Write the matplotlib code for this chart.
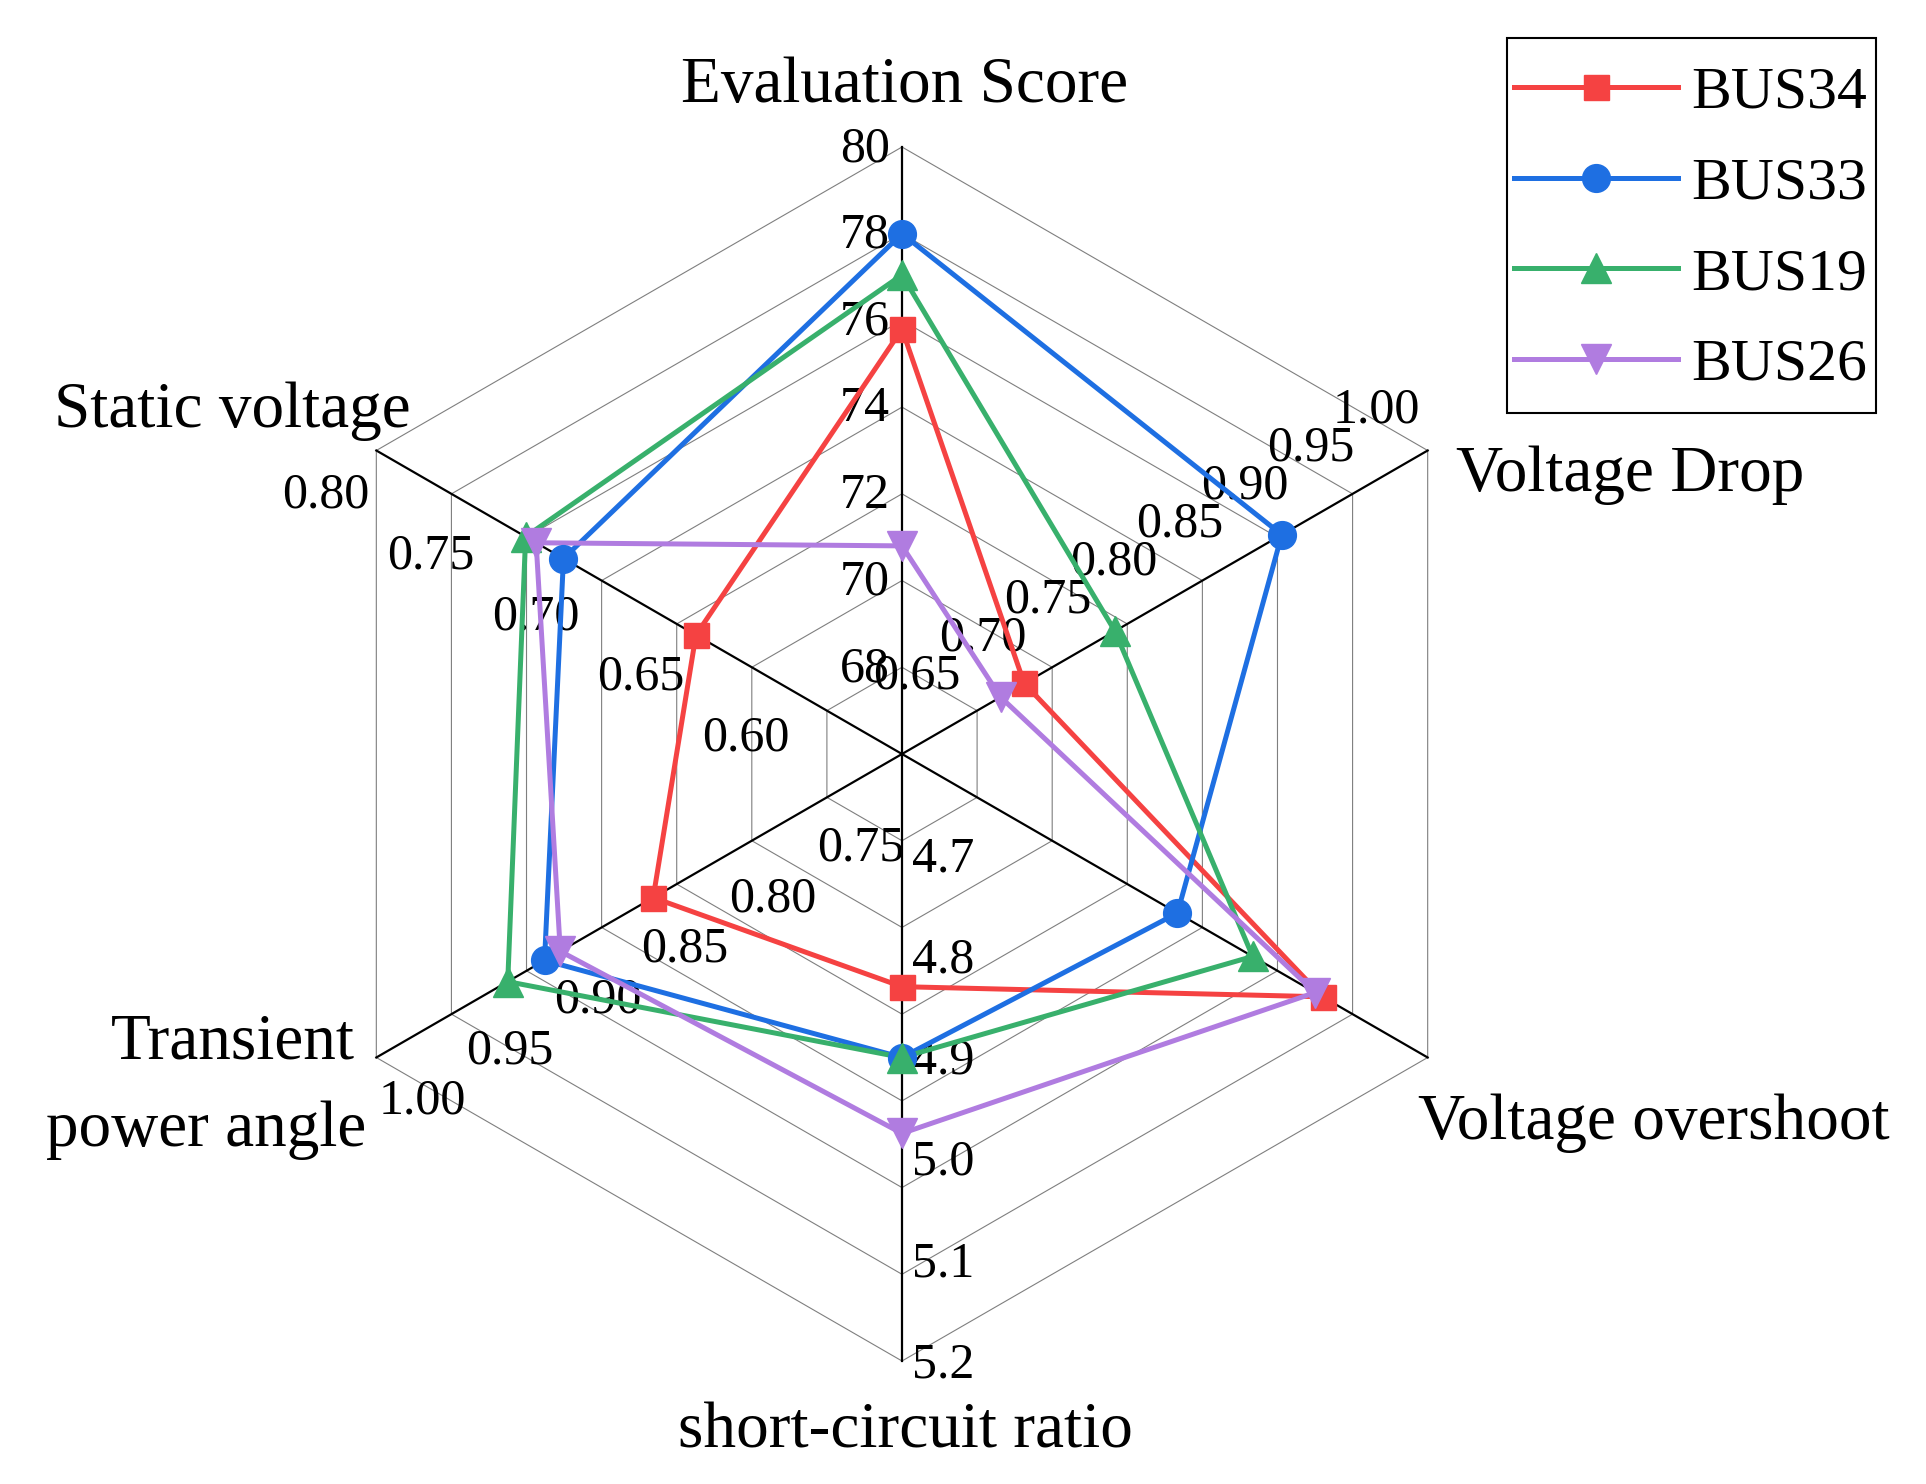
import numpy as np
import matplotlib

matplotlib.use("Agg")
import matplotlib.pyplot as plt
from matplotlib.lines import Line2D
from matplotlib.patches import Rectangle

plt.rcParams["font.family"] = ["Liberation Serif", "DejaVu Serif"]

# radar axes, clockwise from the top
axis_names = ["Evaluation Score", "Voltage Drop", "Voltage overshoot",
              "short-circuit ratio", "Transient power angle", "Static voltage"]
axis_angles = [90, 30, -30, -90, -150, 150]
axis_min = [66, 0.60, 0.0, 4.6, 0.70, 0.55]
axis_max = [80, 1.00, 1.0, 5.2, 1.00, 0.80]
axis_ticks = [
    [68, 70, 72, 74, 76, 78, 80],
    [0.65, 0.70, 0.75, 0.80, 0.85, 0.90, 0.95, 1.00],
    [],  # no labels on the overshoot axis
    [4.7, 4.8, 4.9, 5.0, 5.1, 5.2],
    [0.75, 0.80, 0.85, 0.90, 0.95, 1.00],
    [0.60, 0.65, 0.70, 0.75, 0.80],
]
tick_fmt = ["{:.0f}", "{:.2f}", "{:.2f}", "{:.1f}", "{:.2f}", "{:.2f}"]

series_names = ["BUS34", "BUS33", "BUS19", "BUS26"]
bus34 = [75.8, 0.693, 0.80, 4.83, 0.842, 0.648]
bus33 = [78.0, 0.889, 0.524, 4.90, 0.904, 0.711]
bus19 = [77.05, 0.762, 0.667, 4.90, 0.925, 0.729]
bus26 = [70.8, 0.675, 0.786, 4.975, 0.895, 0.724]

colors = ["#F54242", "#1E6FE2", "#38B06C", "#B07CE0"]
markers = ["s", "o", "^", "v"]
msizes = [18, 20, 22, 22]

W, H = 1926, 1484
CX, CY, R = 902, 754, 607
N_RINGS = 7


def to_xy(i, value):
    frac = (value - axis_min[i]) / (axis_max[i] - axis_min[i])
    a = np.deg2rad(axis_angles[i])
    return CX + R * frac * np.cos(a), CY - R * frac * np.sin(a)


fig = plt.figure(figsize=(W / 100, H / 100), dpi=100)
ax = fig.add_axes([0, 0, 1, 1])
ax.set_xlim(0, W)
ax.set_ylim(H, 0)
ax.axis("off")

ang = np.deg2rad(axis_angles + [axis_angles[0]])
for k in range(1, N_RINGS + 1):
    f = k / N_RINGS
    ax.plot(CX + R * f * np.cos(ang), CY - R * f * np.sin(ang),
            color="#7f7f7f", lw=0.8, zorder=1)

for a in axis_angles:
    t = np.deg2rad(a)
    ax.plot([CX, CX + R * np.cos(t)], [CY, CY - R * np.sin(t)],
            color="black", lw=1.6, zorder=2)

# tick label placement per axis: (dx, dy, ha)
label_pos = [(-12, 2, "right"), (-51, -40, "center"), (0, 0, "center"),
             (10, 4, "left"), (46, 44, "center"), (-51, 45, "center")]
for i, ticks in enumerate(axis_ticks):
    dx, dy, ha = label_pos[i]
    for v in ticks:
        x, y = to_xy(i, v)
        ax.text(x + dx, y + dy, tick_fmt[i].format(v), fontsize=36,
                ha=ha, va="center", zorder=3)

title_fs = 47
ax.text(905, 86, axis_names[0], fontsize=title_fs, ha="center", va="center")
ax.text(1630, 475, axis_names[1], fontsize=title_fs, ha="center", va="center")
ax.text(1654, 1123, axis_names[2], fontsize=title_fs, ha="center", va="center")
ax.text(905, 1432, axis_names[3], fontsize=title_fs, ha="center", va="center")
ax.text(233, 1043, "Transient", fontsize=title_fs, ha="center", va="center")
ax.text(206, 1130, "power angle", fontsize=title_fs, ha="center", va="center")
ax.text(232, 411, axis_names[5], fontsize=title_fs, ha="center", va="center")

handles = []
for name, vals, c, m, ms in zip(series_names, [bus34, bus33, bus19, bus26],
                                colors, markers, msizes):
    pts = [to_xy(i, v) for i, v in enumerate(vals)]
    xs = [p[0] for p in pts] + [pts[0][0]]
    ys = [p[1] for p in pts] + [pts[0][1]]
    ax.plot(xs, ys, color=c, lw=3.6, zorder=4)
    ax.plot(xs[:-1], ys[:-1], ls="none", marker=m, ms=ms, color=c,
            mec=c, zorder=5)
    handles.append(Line2D([], [], color=c, lw=3.6, marker=m, ms=ms, mec=c,
                          label=name))

leg = fig.legend(handles=handles, loc="upper left",
                 bbox_to_anchor=(1514 / W, 1 - 66 / H), fontsize=43,
                 frameon=False, borderaxespad=0, borderpad=0,
                 labelspacing=0.6, handlelength=2.75, handletextpad=0.22)

# legend frame drawn by hand: Origin pads it more on top/bottom than sides
fig.canvas.draw()
bb = leg.get_window_extent()
pad_l, pad_r, pad_t, pad_b = 7, 9, 28, 20
fig.patches.append(Rectangle((bb.x0 - pad_l, bb.y0 - pad_b),
                             bb.width + pad_l + pad_r,
                             bb.height + pad_t + pad_b,
                             transform=None, fill=False,
                             edgecolor="black", lw=1.5))

fig.savefig("out.png", dpi=100, facecolor="white")
